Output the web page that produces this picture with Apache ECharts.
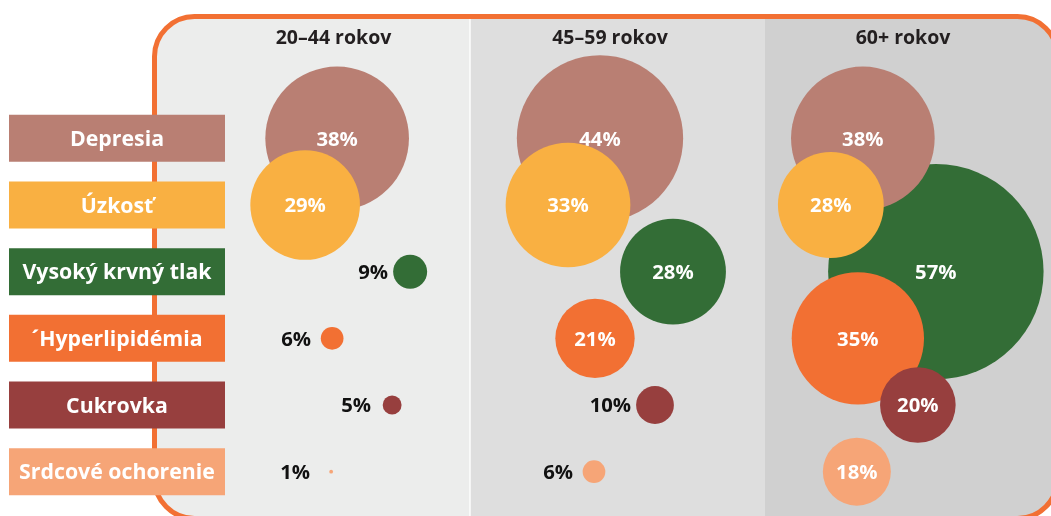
<!DOCTYPE html>
<html>
<head>
<meta charset="utf-8">
<script src="https://cdn.jsdelivr.net/npm/echarts@6/dist/echarts.min.js"></script>
<style>
html,body{margin:0;padding:0;background:#ffffff;}
#chart{width:1051px;height:516px;}
</style>
</head>
<body>
<div id="chart"></div>
<script>
// ---- data ----
const ageGroups = ['20–44 rokov', '45–59 rokov', '60+ rokov'];
const conditions = ['Depresia', 'Úzkosť', 'Vysoký krvný tlak', '´Hyperlipidémia', 'Cukrovka', 'Srdcové ochorenie'];
const depresia = [38, 44, 38];
const uzkost = [29, 33, 28];
const vysokyTlak = [9, 28, 57];
const hyperlipidemia = [6, 21, 35];
const cukrovka = [5, 10, 20];
const srdcoveOchorenie = [1, 6, 18];

// ---- layout / style (not data) ----
const seriesValues = [depresia, uzkost, vysokyTlak, hyperlipidemia, cukrovka, srdcoveOchorenie];
const colors = ['#b97f73', '#f9b042', '#336d36', '#f27033', '#973f3e', '#f6a577'];
const rowShiftPx = [0, -32, 73, -5, 55, -6];   // horizontal stagger of each row inside a column
const rowZ = [3, 4, 2, 5, 6, 7];
const pxPerUnit = 262.85;
const sizePerPct = 3.78;                       // bubble diameter per percent
const headerX = [333.5, 610, 903];
const font = '"Open Sans", "Noto Sans", sans-serif';

const chart = echarts.init(document.getElementById('chart'), null, {renderer: 'canvas'});

const rich = {};
colors.forEach((c, i) => {
  rich['r' + i] = {
    backgroundColor: c, color: '#ffffff', width: 216, height: 44, lineHeight: 44,
    padding: [3, 0, 0, 0],
    align: 'center', fontSize: 21.3, fontWeight: 'bold', fontFamily: font
  };
});

const series = seriesValues.map((vals, row) => ({
  type: 'scatter',
  name: conditions[row],
  z: rowZ[row],
  clip: false,
  silent: true,
  symbol: 'circle',
  symbolSize: v => v[2] * sizePerPct,
  itemStyle: {color: colors[row], opacity: 1},
  label: {
    show: true,
    formatter: p => p.value[2] + '%',
    fontFamily: font, fontSize: 20.3, fontWeight: 'bold'
  },
  data: vals.map((v, col) => {
    const inside = v >= 15;
    return {
      value: [col + rowShiftPx[row] / pxPerUnit, row, v],
      label: inside
        ? {position: 'inside', color: '#ffffff', offset: [0, 1.5]}
        : {position: 'inside', align: 'right', color: '#111111',
           offset: [-Math.max(21, v * sizePerPct / 2 + 5), 1.5]}
    };
  })
}));

const borderShape = {x: 154.5, y: 16.5, width: 903, height: 502, r: 40};

const graphics = [
  {type: 'rect', shape: borderShape, style: {fill: '#d0d0d0'}, z: -10, silent: true},
  {type: 'rect', shape: {x: 470, y: 16.5, width: 295, height: 502}, style: {fill: '#dedede'}, z: -9, silent: true},
  {type: 'rect', shape: {x: 154.5, y: 16.5, width: 315.5, height: 502, r: [40, 0, 0, 40]}, style: {fill: '#ecedec'}, z: -8, silent: true},
  {type: 'rect', shape: {x: 469.3, y: 19, width: 1.4, height: 500}, style: {fill: '#ffffff'}, z: -7, silent: true},
  {type: 'rect', shape: borderShape, style: {fill: 'none', stroke: '#f27033', lineWidth: 5}, z: -6, silent: true}
];
ageGroups.forEach((g, i) => {
  graphics.push({
    type: 'text', x: headerX[i], y: 38.5, z: -5, silent: true,
    style: {text: g, fill: '#231f20', font: 'bold 19.5px ' + font, textAlign: 'center', textVerticalAlign: 'middle'}
  });
});

const option = {
  animation: false,
  backgroundColor: '#ffffff',
  graphic: graphics,
  grid: {left: 233, right: 0, top: 105, height: 400},
  xAxis: {
    type: 'value', min: -0.3962, max: 2.7158, show: false
  },
  yAxis: {
    type: 'category', data: conditions, inverse: true, z: 20,
    axisLine: {show: false}, axisTick: {show: false}, splitLine: {show: false},
    axisLabel: {
      interval: 0, margin: 8,
      formatter: (val, idx) => '{r' + idx + '|' + val + '}',
      rich: rich
    }
  },
  series: series
};
chart.setOption(option);
</script>
</body>
</html>
